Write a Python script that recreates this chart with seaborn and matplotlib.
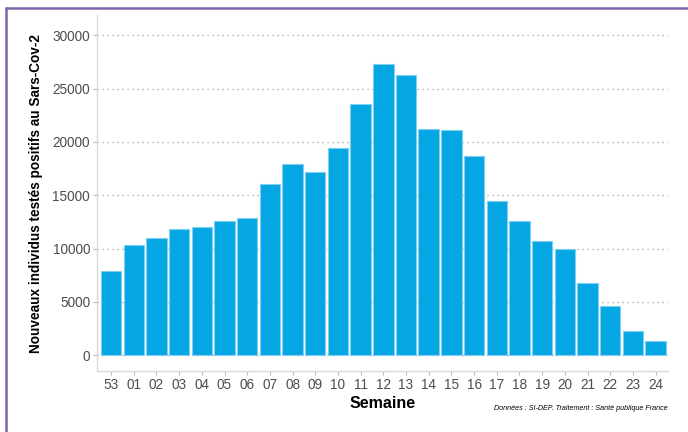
import pandas as pd
import matplotlib
matplotlib.use("Agg")
import matplotlib.pyplot as plt
import seaborn as sns
from matplotlib.lines import Line2D

# Data
semaines = ["53", "01", "02", "03", "04", "05", "06", "07", "08", "09", "10", "11",
            "12", "13", "14", "15", "16", "17", "18", "19", "20", "21", "22", "23", "24"]
positifs = [7900, 10300, 11000, 11800, 12000, 12600, 12900, 16100, 17900, 17200, 19400, 23600,
            27300, 26300, 21200, 21100, 18700, 14500, 12600, 10700, 10000, 6800, 4600, 2300, 1300]

df = pd.DataFrame({"Semaine": semaines, "Positifs": positifs})

sns.set_theme(style="white")
plt.rcParams["font.family"] = ["Liberation Sans", "DejaVu Sans"]

fig = plt.figure(figsize=(6.88, 4.32), dpi=100)
ax = fig.add_axes([0.141, 0.141, 0.830, 0.824])

sns.barplot(
    data=df,
    x="Semaine",
    y="Positifs",
    color="#05A6E4",
    saturation=1,
    width=0.9,
    edgecolor="#7FD0F0",
    linewidth=0.8,
    ax=ax
)

ax.set_xlim(-0.62, 24.55)
ax.set_ylim(-1500, 31900)
ax.set_yticks([0, 5000, 10000, 15000, 20000, 25000, 30000])
ax.yaxis.grid(True, linestyle=(0, (1, 3)), color="#A0A0A0", linewidth=0.9)
ax.set_axisbelow(True)

for side in ["top", "right"]:
    ax.spines[side].set_visible(False)
for side in ["left", "bottom"]:
    ax.spines[side].set_color("#D9D9D9")
    ax.spines[side].set_linewidth(1.0)

ax.tick_params(axis="both", which="major", length=3, width=0.8, color="#BBBBBB",
               labelsize=9.8, labelcolor="#4D4D4D", pad=2)
ax.tick_params(axis="x", bottom=True)
ax.tick_params(axis="y", left=True)

ax.set_xlabel("Semaine", fontsize=11.5, fontweight="bold", color="black", labelpad=3)
ax.set_ylabel("Nouveaux individus testés positifs au Sars-Cov-2", fontsize=9.8,
              fontweight="bold", color="black", labelpad=7)

fig.text(0.971, 0.055, "Données : SI-DEP. Traitement : Santé publique France",
         ha="right", va="center", fontsize=5.1, style="italic", color="black")

# purple frame (left and top)
fig.add_artist(Line2D([0.009, 0.009], [0.0, 0.982], transform=fig.transFigure,
                      color="#7E64A8", linewidth=1.8))
fig.add_artist(Line2D([0.009, 1.0], [0.982, 0.982], transform=fig.transFigure,
                      color="#7E64A8", linewidth=1.8))

fig.savefig("out.png", dpi=100)
